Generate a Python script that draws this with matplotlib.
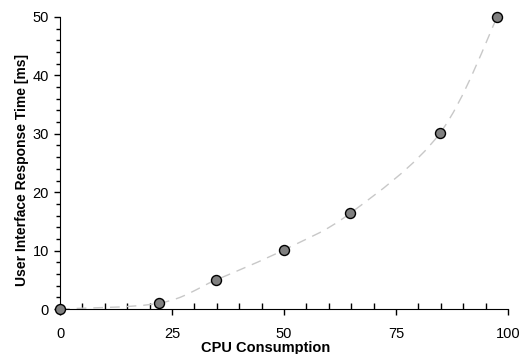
import numpy as np
import matplotlib
matplotlib.use("Agg")
import matplotlib.pyplot as plt
from matplotlib.ticker import MultipleLocator
from matplotlib.path import Path
from matplotlib.patches import PathPatch

cpu = [0, 22.2, 34.9, 49.9, 64.8, 84.8, 97.6]
resp = [0, 1.0, 5.0, 10.1, 16.4, 30.1, 50.0]

plt.rcParams['font.family'] = ['Liberation Sans', 'DejaVu Sans']

fig = plt.figure(figsize=(5.27, 3.54), dpi=100)
ax = fig.add_axes([0.1139, 0.1271, 0.8501, 0.8249])

# smoothed connecting line (Catmull-Rom style Bezier through the points)
pts = np.column_stack([cpu, resp]).astype(float)
n = len(pts)
verts = [pts[0]]
codes = [Path.MOVETO]
t = 1.0 / 6.0
for i in range(n - 1):
    p0 = pts[i - 1] if i > 0 else pts[i]
    p1 = pts[i]
    p2 = pts[i + 1]
    p3 = pts[i + 2] if i + 2 < n else pts[i + 1]
    c1 = p1 + (p2 - p0) * t
    c2 = p2 - (p3 - p1) * t
    verts += [c1, c2, p2]
    codes += [Path.CURVE4] * 3
patch = PathPatch(Path(verts, codes), fill=False, edgecolor='#c8c8c8', lw=1.0,
                  linestyle=(0, (7, 5)), zorder=2)
ax.add_patch(patch)

ax.plot(cpu, resp, 'o', ms=7.2, mfc='#808080', mec='black', mew=1.0,
        clip_on=False, zorder=3)

ax.set_xlim(0, 100)
ax.set_ylim(0, 50)
ax.spines['top'].set_visible(False)
ax.spines['right'].set_visible(False)
ax.xaxis.set_major_locator(MultipleLocator(25))
ax.xaxis.set_minor_locator(MultipleLocator(5))
ax.yaxis.set_major_locator(MultipleLocator(10))
ax.yaxis.set_minor_locator(MultipleLocator(2))
ax.tick_params(axis='x', which='major', direction='out', length=4, width=1, labelsize=10.5, pad=9)
ax.tick_params(axis='x', which='minor', direction='in', length=4, width=1)
ax.tick_params(axis='y', which='major', direction='out', length=4, width=1, labelsize=10.5, pad=4)
ax.tick_params(axis='y', which='minor', direction='out', length=3, width=1)
ax.set_xlabel('CPU Consumption', fontweight='bold', fontsize=10.5, labelpad=0)
ax.set_ylabel('User Interface Response Time [ms]', fontweight='bold', fontsize=10, labelpad=2.5)
ax.xaxis.label.set_x(0.46)
ax.yaxis.label.set_y(0.476)

fig.savefig('out.png', dpi=100)
